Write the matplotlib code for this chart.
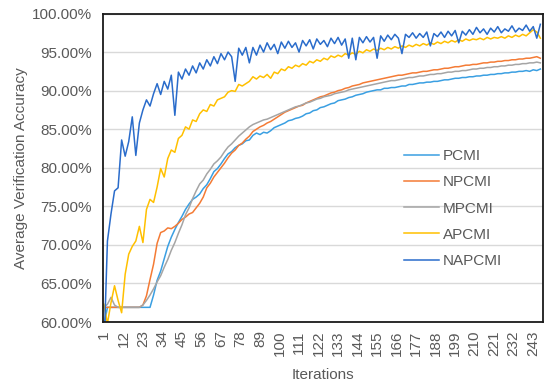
import numpy as np
import matplotlib
matplotlib.use('Agg')
import matplotlib.pyplot as plt

# Series values at every second iteration (1, 3, 5, ...)
pcmi = [59.5, 61.9, 61.9, 61.9, 61.9, 61.9, 61.9, 61.9, 61.9, 61.9, 61.9, 61.9, 61.9, 61.9,
        63.5, 65.4, 66.6, 68.2, 69.8, 71.0, 72.0, 72.9, 73.7, 74.6,
        75.3, 75.9, 76.2, 76.6, 77.3, 77.8, 78.6, 79.5, 79.9, 80.5, 81.2, 81.8, 82.1, 82.6,
        82.9, 83.1, 83.5, 83.6, 84.2, 84.5, 84.3, 84.6, 84.5, 84.8, 85.2, 85.4, 85.6, 85.8,
        86.1, 86.2, 86.4, 86.5, 86.7, 87.0, 87.1, 87.4, 87.5, 87.8, 87.9, 88.1, 88.3, 88.4,
        88.7, 88.8, 88.9, 89.1, 89.2, 89.4, 89.5, 89.6, 89.8, 89.9, 90.0, 90.1, 90.1, 90.3,
        90.3, 90.4, 90.4, 90.5, 90.6, 90.6, 90.8, 90.8, 90.9, 91.0, 91.0, 91.1, 91.1, 91.2,
        91.2, 91.3, 91.4, 91.4, 91.5, 91.6, 91.6, 91.7, 91.7, 91.8, 91.8, 91.9, 91.9, 92.0,
        92.0, 92.1, 92.1, 92.2, 92.2, 92.3, 92.3, 92.4, 92.4, 92.5, 92.5, 92.6, 92.5, 92.7,
        92.6, 92.8]

npcmi = [61.9, 61.9, 61.9, 61.9, 61.9, 61.9, 61.9, 61.9, 61.9, 61.9, 61.9,
         62.2, 63.4, 65.5, 67.5, 70.2, 71.6, 71.8, 72.2, 72.1, 72.4, 72.8, 73.3, 73.6,
         74.0, 74.2, 74.8, 75.4, 76.2, 77.4, 78.0, 78.8, 79.4, 80.0, 80.6, 81.3, 81.9, 82.3,
         82.9, 83.2, 83.7, 84.1, 84.7, 85.0, 85.3, 85.5, 85.8, 86.0, 86.3, 86.6, 86.9, 87.2,
         87.4, 87.6, 87.8, 88.0, 88.1, 88.4, 88.6, 88.8, 89.0, 89.2, 89.3, 89.5, 89.7, 89.8,
         90.0, 90.1, 90.3, 90.4, 90.6, 90.7, 90.8, 91.0, 91.1, 91.2, 91.3, 91.4, 91.5, 91.6,
         91.7, 91.8, 91.9, 92.0, 92.0, 92.1, 92.2, 92.3, 92.3, 92.4, 92.5, 92.5, 92.6, 92.7,
         92.7, 92.8, 92.9, 92.9, 93.0, 93.1, 93.1, 93.2, 93.3, 93.3, 93.4, 93.4, 93.5, 93.6,
         93.6, 93.7, 93.7, 93.8, 93.8, 93.9, 93.9, 94.0, 94.0, 94.1, 94.1, 94.2, 94.2, 94.3,
         94.4, 94.2]

mpcmi = [61.9, 62.3, 63.2, 62.2, 61.9, 61.9, 61.9, 61.9, 61.9, 61.9, 61.9,
         62.2, 62.8, 63.5, 64.3, 65.2, 66.0, 67.1, 68.1, 69.3, 70.3, 71.5, 72.6, 73.9,
         74.8, 76.0, 77.0, 77.9, 78.4, 79.2, 79.8, 80.5, 80.9, 81.4, 82.1, 82.7, 83.1, 83.6,
         84.1, 84.5, 84.9, 85.3, 85.6, 85.8, 86.0, 86.2, 86.3, 86.5, 86.7, 86.9, 87.1, 87.3,
         87.5, 87.7, 87.9, 88.0, 88.2, 88.4, 88.5, 88.7, 88.9, 89.0, 89.2, 89.3, 89.4, 89.6,
         89.7, 89.8, 89.9, 90.1, 90.2, 90.3, 90.4, 90.5, 90.6, 90.7, 90.8, 90.9, 91.0, 91.1,
         91.2, 91.3, 91.3, 91.4, 91.5, 91.6, 91.7, 91.7, 91.8, 91.9, 91.9, 92.0, 92.1, 92.1,
         92.2, 92.2, 92.3, 92.4, 92.4, 92.5, 92.5, 92.6, 92.6, 92.7, 92.8, 92.8, 92.9, 92.9,
         93.0, 93.0, 93.1, 93.1, 93.2, 93.2, 93.3, 93.3, 93.4, 93.4, 93.5, 93.5, 93.6, 93.6,
         93.7, 93.6]

apcmi = [62.3, 59.8, 62.5, 64.7, 62.8, 61.2, 66.2, 68.8, 69.8, 70.5, 72.4, 70.3, 74.6, 75.9,
         75.5, 77.5, 79.9, 78.8, 81.2, 82.3, 82.0, 83.8, 84.2, 85.3, 85.0, 86.2, 86.0, 87.0,
         87.5, 87.3, 88.2, 88.0, 88.8, 89.0, 89.2, 89.8, 90.0, 89.9, 90.8, 90.6, 90.9, 91.2,
         91.8, 91.5, 91.9, 91.7, 92.1, 91.6, 92.4, 92.2, 92.8, 92.6, 93.1, 92.9, 93.3, 93.1,
         93.5, 93.3, 93.8, 93.6, 94.0, 93.8, 94.2, 94.0, 94.5, 94.3, 94.6, 94.4, 94.8, 94.6,
         94.9, 94.7, 95.1, 94.9, 95.3, 95.1, 95.4, 95.2, 95.5, 95.3, 95.6, 95.4, 95.7, 95.5,
         95.8, 95.6, 95.9, 95.7, 96.0, 95.8, 96.1, 95.9, 96.2, 96.0, 96.3, 96.1, 96.4, 96.2,
         96.5, 96.3, 96.6, 96.4, 96.7, 96.5, 96.7, 96.6, 96.8, 96.6, 96.9, 96.7, 96.9, 96.8,
         97.0, 96.8, 97.1, 96.9, 97.2, 97.0, 97.3, 97.1, 97.5, 97.9, 97.6, 96.8]

napcmi = [56.0, 70.5, 74.0, 77.0, 77.4, 83.6, 81.5, 83.4, 86.6, 81.6, 85.8, 87.5, 88.8, 88.0,
          89.6, 90.9, 89.5, 91.2, 90.2, 92.0, 86.8, 92.4, 91.5, 92.8, 92.0, 93.2, 92.3, 93.6,
          92.8, 94.0, 93.2, 94.4, 93.5, 94.8, 94.0, 95.0, 94.4, 91.2, 95.5, 94.6, 95.6, 93.6,
          95.6, 94.6, 95.9, 95.0, 96.2, 95.3, 96.0, 94.8, 96.3, 95.5, 96.4, 95.6, 96.2, 95.0,
          96.5, 95.8, 96.6, 95.4, 96.7, 96.0, 96.5, 95.7, 96.8, 96.1, 96.9, 95.9, 96.7, 94.2,
          96.8, 94.0, 96.9, 96.2, 97.0, 96.3, 96.9, 94.2, 97.1, 96.4, 97.2, 96.6, 97.3, 96.8,
          94.8, 97.3, 96.9, 97.5, 96.8, 97.4, 96.9, 97.6, 95.8, 97.4, 97.0, 97.6, 96.9, 97.7,
          97.1, 97.8, 96.2, 97.7, 97.2, 97.9, 97.3, 98.2, 97.5, 98.0, 97.3, 98.1, 97.6, 98.3,
          97.5, 98.0, 97.7, 98.4, 97.6, 98.1, 97.8, 98.5, 97.7, 98.3, 96.8, 98.6]

labels = ['PCMI', 'NPCMI', 'MPCMI', 'APCMI', 'NAPCMI']
colors = ['#3A9FE2', '#F47B35', '#A5A5A5', '#FFC000', '#2A6CCB']
xtick_labels = [str(i) for i in range(1, 249, 11)]

plt.rcParams['font.family'] = ['Liberation Sans', 'DejaVu Sans']
txtcol = '#595959'

fig = plt.figure(figsize=(5.5, 3.91), dpi=100, facecolor='white')
ax = fig.add_axes([103/550, 1 - 322/391, 440/550, 308.5/391])

for vals, lab, col in zip([pcmi, npcmi, mpcmi, apcmi, napcmi], labels, colors):
    x = 1 + 2 * np.arange(len(vals))
    ax.plot(x, vals, color=col, lw=1.1, label=lab)

ax.set_xlim(0.5, 248.5)
ax.set_ylim(60, 100)
ax.set_yticks(np.arange(60, 101, 5))
ax.set_yticklabels(['%.2f%%' % v for v in np.arange(60, 101, 5)])
ax.set_xticks(np.arange(1, 249, 11))
ax.set_xticklabels(xtick_labels, rotation=90)
ax.tick_params(length=0, labelsize=11, labelcolor=txtcol)
ax.tick_params(axis='y', pad=8)
ax.tick_params(axis='x', pad=6)
ax.grid(axis='y', color='#D9D9D9', lw=1.0)
ax.set_axisbelow(True)
for s in ax.spines.values():
    s.set_color('#1a1a1a')
    s.set_linewidth(1.3)

ax.set_xlabel('Iterations', fontsize=11, color=txtcol, labelpad=9)
ax.set_ylabel('Average Verification Accuracy', fontsize=11, color=txtcol, labelpad=3)

leg = ax.legend(loc='upper left', bbox_to_anchor=(0.652, 0.605), frameon=False,
                fontsize=11, handlelength=2.3, labelspacing=0.8, handletextpad=0.25)
for t in leg.get_texts():
    t.set_color(txtcol)

plt.savefig('out.png', dpi=100, facecolor='white')
